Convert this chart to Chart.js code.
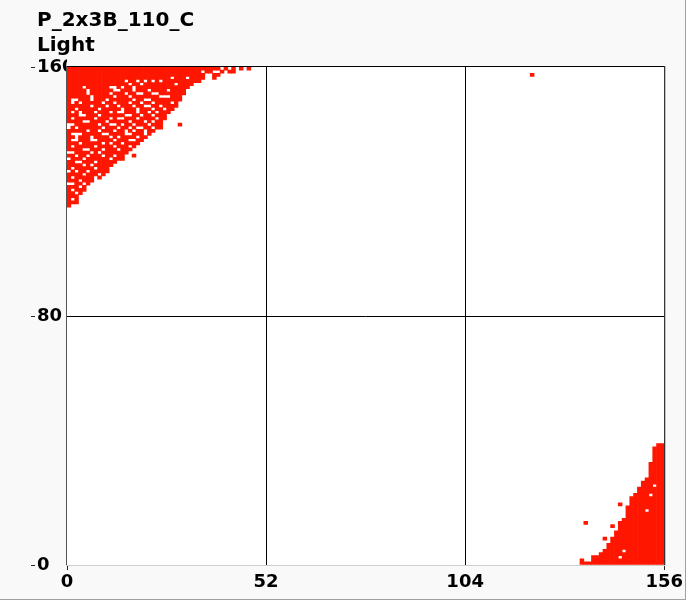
<!DOCTYPE html>
<html>
<head>
<meta charset="utf-8">
<script src="https://cdn.jsdelivr.net/npm/chart.js@4.4.1/dist/chart.umd.min.js"></script>
<style>
  html, body { margin: 0; padding: 0; background: #f9f9f9; }
  #wrap { width: 685px; height: 599px; border-right: 1px solid #a0a0a0; border-bottom: 1px solid #a0a0a0; }
</style>
</head>
<body>
<div id="wrap"><canvas id="chart" width="685" height="599"></canvas></div>
<script>
const titleLines = ['P_2x3B_110_C', 'Light'];
const xTicks = [0, 52, 104, 156];
const yTicks = [0, 80, 160];

// top-left patch: cells 0..end-1 are set, one entry per row going down from y=159
const topRowEnds = [44, 44, 40, 36, 35, 33, 32, 31, 31, 30, 30, 29, 29, 28, 27, 26, 26, 25, 25, 25,
  23, 22, 21, 20, 19, 18, 17, 16, 15, 15, 13, 12, 11, 11, 10, 9, 7, 6, 5, 5, 4, 3, 3, 3, 1];
// empty cells inside the top-left patch, same row order
const topRowHoles = [
  [40, 42], [35, 38, 39, 41], [36, 37], [27, 31], [15, 18, 20, 22, 24],
  [16, 19, 28], [4, 11, 12, 14, 17], [5, 12, 13, 17, 21, 26], [5, 11, 15, 18, 19, 22, 23], [6, 12, 16, 24, 25, 26],
  [1, 2, 6, 10, 17, 20, 21], [1, 3, 9, 12, 16, 19, 22, 27], [6, 10, 13, 17, 20, 21, 24], [2, 8, 14, 18, 22, 25], [1, 3, 7, 11, 13, 14, 18, 21, 23],
  [3, 4, 8, 15, 16, 19, 22], [1, 7, 11, 13, 14, 18, 23], [4, 5, 10, 16, 20, 22], [0, 1, 8, 11, 12, 14, 17, 21], [0, 2, 9, 13, 16, 18, 19, 22],
  [5, 8, 12, 15, 17, 20], [1, 2, 3, 9, 10, 15, 16, 20], [2, 6, 11, 13, 18], [1, 2, 6, 7, 12, 16, 17], [3, 9, 11, 14],
  [1, 7, 12, 16], [4, 5, 9, 13], [0, 1, 6, 8], [2, 5, 9, 12], [0, 4, 11],
  [2, 3, 7], [4, 6], [1, 7], [0, 2, 5], [4, 8],
  [1, 7], [3], [0, 1, 4], [3], [1],
  [2], [], [1], [], []
];

// bottom-right patch: cells start..155 are set, one entry per row going up from y=0
const bottomRowStarts = [134, 134, 137, 139, 140, 141, 141, 142, 142, 143, 143, 144, 144, 144, 145, 146, 146, 146, 146, 147,
  147, 147, 148, 149, 149, 150, 150, 151, 152, 152, 152, 152, 152, 153, 153, 153, 153, 153, 154];
const bottomHoles = [[135, 1], [136, 1], [144, 2], [145, 4], [151, 17], [152, 22], [153, 25]];

// single cells away from the two patches
const strayCells = [[45, 159], [47, 159], [38, 156], [29, 141], [17, 131], [121, 157],
  [144, 19], [142, 12], [135, 13], [140, 8]];

const RED = 'rgb(255, 22, 0)';

// collect the set cells
const cells = new Set();
topRowEnds.forEach((end, j) => {
  const y = 159 - j;
  for (let x = 0; x < end; x++) cells.add(x + ',' + y);
  topRowHoles[j].forEach(x => cells.delete(x + ',' + y));
});
bottomRowStarts.forEach((start, y) => {
  for (let x = start; x < 156; x++) cells.add(x + ',' + y);
});
bottomHoles.forEach(([x, y]) => cells.delete(x + ',' + y));
strayCells.forEach(([x, y]) => cells.add(x + ',' + y));

// each column becomes a few floating bars, one per vertical run
const runsByCol = [];
for (let x = 0; x < 156; x++) {
  const runs = [];
  let lo = null;
  for (let y = 0; y <= 160; y++) {
    const on = y < 160 && cells.has(x + ',' + y);
    if (on && lo === null) lo = y;
    if (!on && lo !== null) { runs.push([lo, y]); lo = null; }
  }
  runsByCol.push(runs);
}
const maxRuns = Math.max(...runsByCol.map(r => r.length));
const datasets = [];
for (let k = 0; k < maxRuns; k++) {
  const data = [];
  runsByCol.forEach((runs, x) => {
    if (runs[k]) data.push({ x: x + 0.5, y: runs[k] });
  });
  datasets.push({
    data: data,
    backgroundColor: RED,
    borderWidth: 0,
    barPercentage: 1,
    categoryPercentage: 1,
    grouped: false
  });
}

const plotFrame = {
  id: 'plotFrame',
  beforeDraw(chart) {
    const { ctx, chartArea: a } = chart;
    ctx.save();
    ctx.fillStyle = '#ffffff';
    ctx.fillRect(a.left, a.top, a.right - a.left, a.bottom - a.top);
    ctx.restore();
  },
  afterDatasetsDraw(chart) {
    const { ctx, chartArea: a } = chart;
    ctx.save();
    ctx.fillStyle = '#000';
    ctx.fillRect(a.left - 1, a.top - 1, a.right - a.left + 1, 1);
    ctx.fillRect(a.right, a.top - 1, 1, a.bottom - a.top + 1);
    ctx.fillStyle = '#555';
    ctx.fillRect(a.left - 1, a.top - 1, 1, a.bottom - a.top + 1);
    ctx.fillStyle = '#cfcfcf';
    ctx.fillRect(a.left - 1, a.bottom, a.right - a.left + 2, 1);
    ctx.restore();
  },
  afterDraw(chart) {
    // little dash in front of each y label
    const { ctx } = chart;
    const ys = chart.scales.y;
    ctx.save();
    ctx.fillStyle = '#222';
    yTicks.forEach(v => {
      const py = Math.round(ys.getPixelForValue(v));
      ctx.fillRect(ys.left - 6, py, 4, 1);
    });
    ctx.restore();
  }
};

new Chart(document.getElementById('chart'), {
  type: 'bar',
  data: { datasets: datasets },
  plugins: [plotFrame],
  options: {
    responsive: false,
    animation: false,
    layout: { padding: { left: 37, right: 20, top: 0, bottom: 0 } },
    plugins: {
      legend: { display: false },
      tooltip: { enabled: false },
      title: {
        display: true,
        text: titleLines,
        align: 'start',
        color: '#000',
        font: { family: 'DejaVu Sans', size: 20, weight: 'bold', lineHeight: '25px' },
        padding: { top: 8, bottom: 9 }
      }
    },
    scales: {
      x: {
        type: 'linear',
        min: 0,
        max: 156,
        offset: false,
        afterBuildTicks: s => { s.ticks = xTicks.map(v => ({ value: v })); },
        afterFit: s => { s.height = 34; },
        border: { display: false },
        grid: {
          offset: false,
          color: c => (c.tick && (c.tick.value === 52 || c.tick.value === 104)) ? '#000' : 'rgba(0,0,0,0)',
          tickColor: c => (c.tick && (c.tick.value === 0 || c.tick.value === 156)) ? '#222' : 'rgba(0,0,0,0)',
          tickLength: 5,
          lineWidth: 1
        },
        ticks: {
          autoSkip: false,
          maxRotation: 0,
          padding: 2,
          color: '#000',
          font: { family: 'DejaVu Sans', size: 18, weight: 'bold' }
        }
      },
      y: {
        type: 'linear',
        min: 0,
        max: 160,
        afterBuildTicks: s => { s.ticks = yTicks.map(v => ({ value: v })); },
        afterFit: s => { s.width = 30; },
        border: { display: false },
        grid: {
          color: c => (c.tick && c.tick.value === 80) ? '#000' : 'rgba(0,0,0,0)',
          drawTicks: false,
          lineWidth: 1
        },
        ticks: {
          crossAlign: 'far',
          padding: 0,
          color: '#000',
          font: { family: 'DejaVu Sans', size: 18, weight: 'bold' }
        }
      }
    }
  }
});
</script>
</body>
</html>
